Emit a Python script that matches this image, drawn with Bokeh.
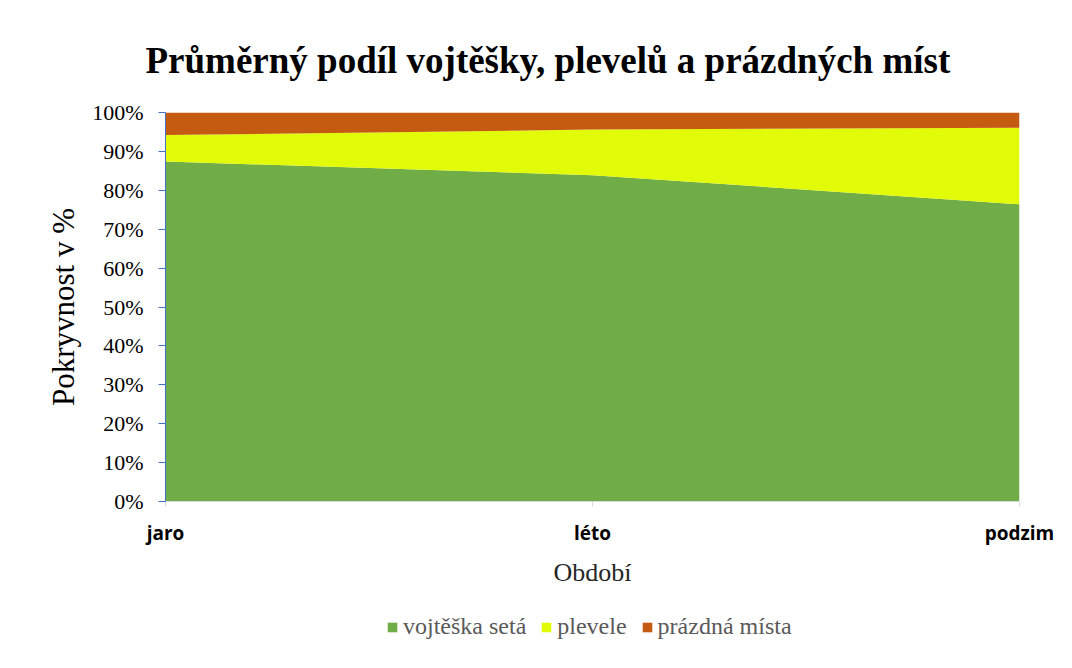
from bokeh.plotting import figure
from bokeh.layouts import column
from bokeh.models import ColumnDataSource, FixedTicker, NumeralTickFormatter, Range1d, Legend, LegendItem, Title
from bokeh.embed import file_html
from bokeh.resources import INLINE

categories = ["jaro", "léto", "podzim"]
vojteska = [0.874, 0.839, 0.764]
plevele = [0.068, 0.117, 0.197]
prazdna = [0.058, 0.044, 0.039]
series_names = ["vojtěška setá", "plevele", "prázdná místa"]
colors = ["#70ad47", "#e2fb08", "#c55a11"]

xs = list(range(len(categories)))
source = ColumnDataSource(dict(x=xs, v=vojteska, p=plevele, r=prazdna))

W = 1056
p = figure(width=W, height=600, output_backend="svg", toolbar_location=None,
           x_range=Range1d(0, len(categories) - 1), y_range=Range1d(0, 1),
           min_border_left=165, min_border_right=37, min_border_top=112, min_border_bottom=99)

renderers = p.varea_stack(stackers=["v", "p", "r"], x="x", color=colors, source=source)

serif = "Liberation Serif"

t = Title(text="Průměrný podíl vojtěšky, plevelů a prázdných míst", align="left",
          text_font=serif, text_font_size="37px", text_font_style="bold", text_color="#000000",
          standoff=64, offset=-20)
p.add_layout(t, "above")

p.xaxis.ticker = FixedTicker(ticks=xs)
p.xaxis.major_label_overrides = {i: c for i, c in zip(xs, categories)}
p.xaxis.major_label_text_font = "Open Sans"
p.xaxis.major_label_text_font_style = "bold"
p.xaxis.major_label_text_font_size = "19px"
p.xaxis.major_label_text_color = "#000000"
p.xaxis.major_label_standoff = 13
p.xaxis.axis_line_color = "#d9d9d9"
p.xaxis.major_tick_line_color = "#d9d9d9"
p.xaxis.major_tick_out = 5
p.xaxis.major_tick_in = 0
p.xaxis.minor_tick_line_color = None
p.xaxis.axis_label = "Období"
p.xaxis.axis_label_text_font = serif
p.xaxis.axis_label_text_font_size = "26px"
p.xaxis.axis_label_text_font_style = "normal"
p.xaxis.axis_label_text_color = "#262626"
p.xaxis.axis_label_standoff = 9

p.yaxis.ticker = FixedTicker(ticks=[i / 10 for i in range(11)])
p.yaxis.formatter = NumeralTickFormatter(format="0%")
p.yaxis.major_label_text_font = serif
p.yaxis.major_label_text_font_size = "22px"
p.yaxis.major_label_text_color = "#000000"
p.yaxis.major_label_standoff = 15
p.yaxis.axis_line_color = "#4472c4"
p.yaxis.major_tick_line_color = "#4472c4"
p.yaxis.major_tick_out = 7
p.yaxis.major_tick_in = 0
p.yaxis.minor_tick_line_color = None
p.yaxis.axis_label = "Pokryvnost v %"
p.yaxis.axis_label_text_font = serif
p.yaxis.axis_label_text_font_size = "31px"
p.yaxis.axis_label_text_font_style = "normal"
p.yaxis.axis_label_text_color = "#000000"
p.yaxis.axis_label_standoff = 8

p.xgrid.grid_line_color = None
p.ygrid.grid_line_color = None
p.outline_line_color = None

# legend strip below the chart (its frame is aligned with the chart frame)
lg = figure(width=W, height=52, output_backend="svg", toolbar_location=None,
            x_axis_type=None, y_axis_type=None, min_border=0,
            x_range=Range1d(0, 1), y_range=Range1d(0, 1))
lg.outline_line_color = None
lg.xgrid.grid_line_color = None
lg.ygrid.grid_line_color = None
dummies = [lg.varea(x=[0, 1], y1=[5, 5], y2=[6, 6], color=c) for c in colors]
legend = Legend(items=[LegendItem(label=n, renderers=[r]) for n, r in zip(series_names, dummies)],
                orientation="horizontal", location=(221, 12),
                label_text_font=serif, label_text_font_size="24px", label_text_color="#595959",
                glyph_width=12, glyph_height=12, spacing=14, label_standoff=5,
                border_line_color=None, background_fill_alpha=0, padding=0, margin=0)
lg.add_layout(legend, "center")

layout = column(p, lg, spacing=0)
open("out.html", "w").write(file_html(layout, INLINE))
